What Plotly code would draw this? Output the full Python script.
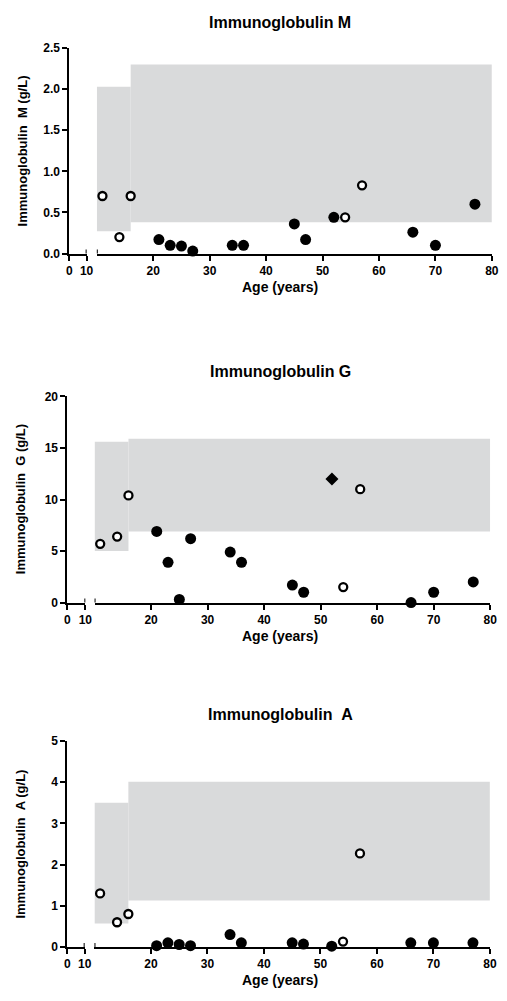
import plotly.graph_objects as go

# ---------------- data ----------------
age_open = [11, 14, 16, 54, 57]
age_filled = [21, 23, 25, 27, 34, 36, 45, 47, 52, 66, 70, 77]
age_filled_igg = [21, 23, 25, 27, 34, 36, 45, 47, 66, 70, 77]
age_diamond_igg = [52]

igm_open = [0.70, 0.20, 0.70, 0.44, 0.83]
igm_filled = [0.17, 0.10, 0.09, 0.03, 0.10, 0.10, 0.36, 0.17, 0.44, 0.26, 0.10, 0.60]

igg_open = [5.7, 6.4, 10.4, 1.5, 11.0]
igg_filled = [6.9, 3.9, 0.3, 6.2, 4.9, 3.9, 1.7, 1.0, 0.0, 1.0, 2.0]
igg_diamond = [12.0]

iga_open = [1.3, 0.6, 0.8, 0.13, 2.27]
iga_filled = [0.03, 0.10, 0.06, 0.03, 0.30, 0.10, 0.10, 0.07, 0.02, 0.10, 0.10, 0.10]

# reference ranges: age boundaries, lower, upper
ref_ages = [10, 16, 80]
igm_ref_low = [0.27, 0.38]
igm_ref_high = [2.03, 2.30]
igg_ref_low = [5.0, 6.9]
igg_ref_high = [15.6, 15.9]
iga_ref_low = [0.57, 1.13]
iga_ref_high = [3.50, 4.01]

titles = ["Immunoglobulin M", "Immunoglobulin G", "Immunoglobulin \u00a0A"]
ytitles = ["Immunoglobulin \u00a0M (g/L)", "Immunoglobulin \u00a0G (g/L)", "Immunoglobulin \u00a0A (g/L)"]
xtitle = "Age (years)"
yranges = [[0, 2.5], [0, 20], [0, 5]]
ydticks = [0.5, 5, 1]
ytickformats = [".1f", "d", "d"]
x_short_ticks = [0, 10]
x_long_ticks = [20, 30, 40, 50, 60, 70, 80]

# ---------------- layout geometry (pixels) ----------------
W, H = 507, 1001
FONT = "Liberation Sans, Arial, Helvetica, sans-serif"
BAND = "#d9dadb"

panels = [
    dict(x0=67.7, x10=85.3, x2s=95.7, x2e=498.7, ytop=41.7, ybot=250.0, title_y=16, xt_y=284, yt_x=20),
    dict(x0=65.7, x10=84.0, x2s=93.4, x2e=497.0, ytop=395.0, ybot=604.0, title_y=370, xt_y=638, yt_x=18),
    dict(x0=65.7, x10=83.3, x2s=93.3, x2e=496.7, ytop=744.3, ybot=953.3, title_y=718, xt_y=987, yt_x=18),
]

def fx(px):
    return px / W

def fy(py):
    return 1 - py / H

fig = go.Figure()
layout = dict(
    width=W, height=H,
    margin=dict(l=0, r=0, t=0, b=0),
    paper_bgcolor="white", plot_bgcolor="white",
    showlegend=False,
    font=dict(family=FONT, size=12, color="black", weight="bold"),
)
shapes = []
annotations = []

series = [
    (igm_open, igm_filled, age_filled, None, None, igm_ref_low, igm_ref_high),
    (igg_open, igg_filled, age_filled_igg, age_diamond_igg, igg_diamond, igg_ref_low, igg_ref_high),
    (iga_open, iga_filled, age_filled, None, None, iga_ref_low, iga_ref_high),
]

axis_common = dict(showgrid=False, zeroline=False, showline=True, linecolor="black",
                   linewidth=2, ticks="outside", ticklen=5, tickwidth=2, tickcolor="black",
                   tickfont=dict(family=FONT, size=12, color="black", weight="bold"),
                   layer="below traces", fixedrange=True)

for i, p in enumerate(panels):
    xa = 2 * i + 1
    xb = 2 * i + 2
    ya = i + 1
    xa_name = "xaxis" if xa == 1 else f"xaxis{xa}"
    xb_name = f"xaxis{xb}"
    ya_name = "yaxis" if ya == 1 else f"yaxis{ya}"
    xa_ref = "x" if xa == 1 else f"x{xa}"
    xb_ref = f"x{xb}"
    ya_ref = "y" if ya == 1 else f"y{ya}"
    ydom = [fy(p["ybot"]), fy(p["ytop"])]

    layout[xa_name] = dict(axis_common, domain=[fx(p["x0"]), fx(p["x10"])], range=[0, 10],
                           tickmode="array", tickvals=x_short_ticks, anchor=ya_ref)
    layout[xb_name] = dict(axis_common, domain=[fx(p["x2s"]), fx(p["x2e"])], range=[ref_ages[0], ref_ages[-1]],
                           tickmode="array", tickvals=x_long_ticks, anchor=ya_ref)
    layout[ya_name] = dict(axis_common, domain=ydom, range=yranges[i], dtick=ydticks[i],
                           tick0=0, tickformat=ytickformats[i], anchor=xa_ref)

    o, f, fa, da, dv, lo, hi = series[i]

    # reference bands
    for k in range(len(lo)):
        shapes.append(dict(type="rect", xref=xb_ref, yref=ya_ref,
                           x0=ref_ages[k], x1=ref_ages[k + 1], y0=lo[k], y1=hi[k],
                           fillcolor=BAND, line=dict(width=0), layer="below"))

    # axis break marks
    for ref in (xa_ref, xb_ref):
        shapes.append(dict(type="line", xref=ref, yref=ya_ref, x0=10, x1=10,
                           ysizemode="pixel", yanchor=0, y0=-4, y1=4,
                           line=dict(color="black", width=2)))

    fig.add_trace(go.Scatter(x=fa, y=f, mode="markers", xaxis=xb_ref, yaxis=ya_ref,
                             cliponaxis=False,
                             marker=dict(symbol="circle", size=11, color="black",
                                         line=dict(width=0))))
    fig.add_trace(go.Scatter(x=age_open, y=o, mode="markers", xaxis=xb_ref, yaxis=ya_ref,
                             cliponaxis=False,
                             marker=dict(symbol="circle", size=8, color="white",
                                         line=dict(width=2.3, color="black"))))
    if da is not None:
        fig.add_trace(go.Scatter(x=da, y=dv, mode="markers", xaxis=xb_ref, yaxis=ya_ref,
                                 cliponaxis=False,
                                 marker=dict(symbol="diamond", size=10, color="black",
                                             line=dict(width=0))))

    annotations.append(dict(text=titles[i], xref="paper", yref="paper", x=fx(283), y=fy(p["title_y"]),
                            xanchor="center", yanchor="middle", showarrow=False,
                            font=dict(family=FONT, size=16, color="black", weight="bold")))
    annotations.append(dict(text=xtitle, xref="paper", yref="paper", x=fx(283), y=fy(p["xt_y"]),
                            xanchor="center", yanchor="middle", showarrow=False,
                            font=dict(family=FONT, size=14, color="black", weight="bold")))
    annotations.append(dict(text=ytitles[i], xref="paper", yref="paper", x=fx(p["yt_x"]),
                            y=fy((p["ytop"] + p["ybot"]) / 2), textangle=-90,
                            xanchor="center", yanchor="middle", showarrow=False,
                            font=dict(family=FONT, size=13, color="black", weight="bold")))

layout["shapes"] = shapes
layout["annotations"] = annotations
fig.update_layout(**layout)
fig.write_html("out.html",
               config={"displayModeBar": False},
               post_script="document.body.style.margin='0';document.body.style.overflow='hidden';")
